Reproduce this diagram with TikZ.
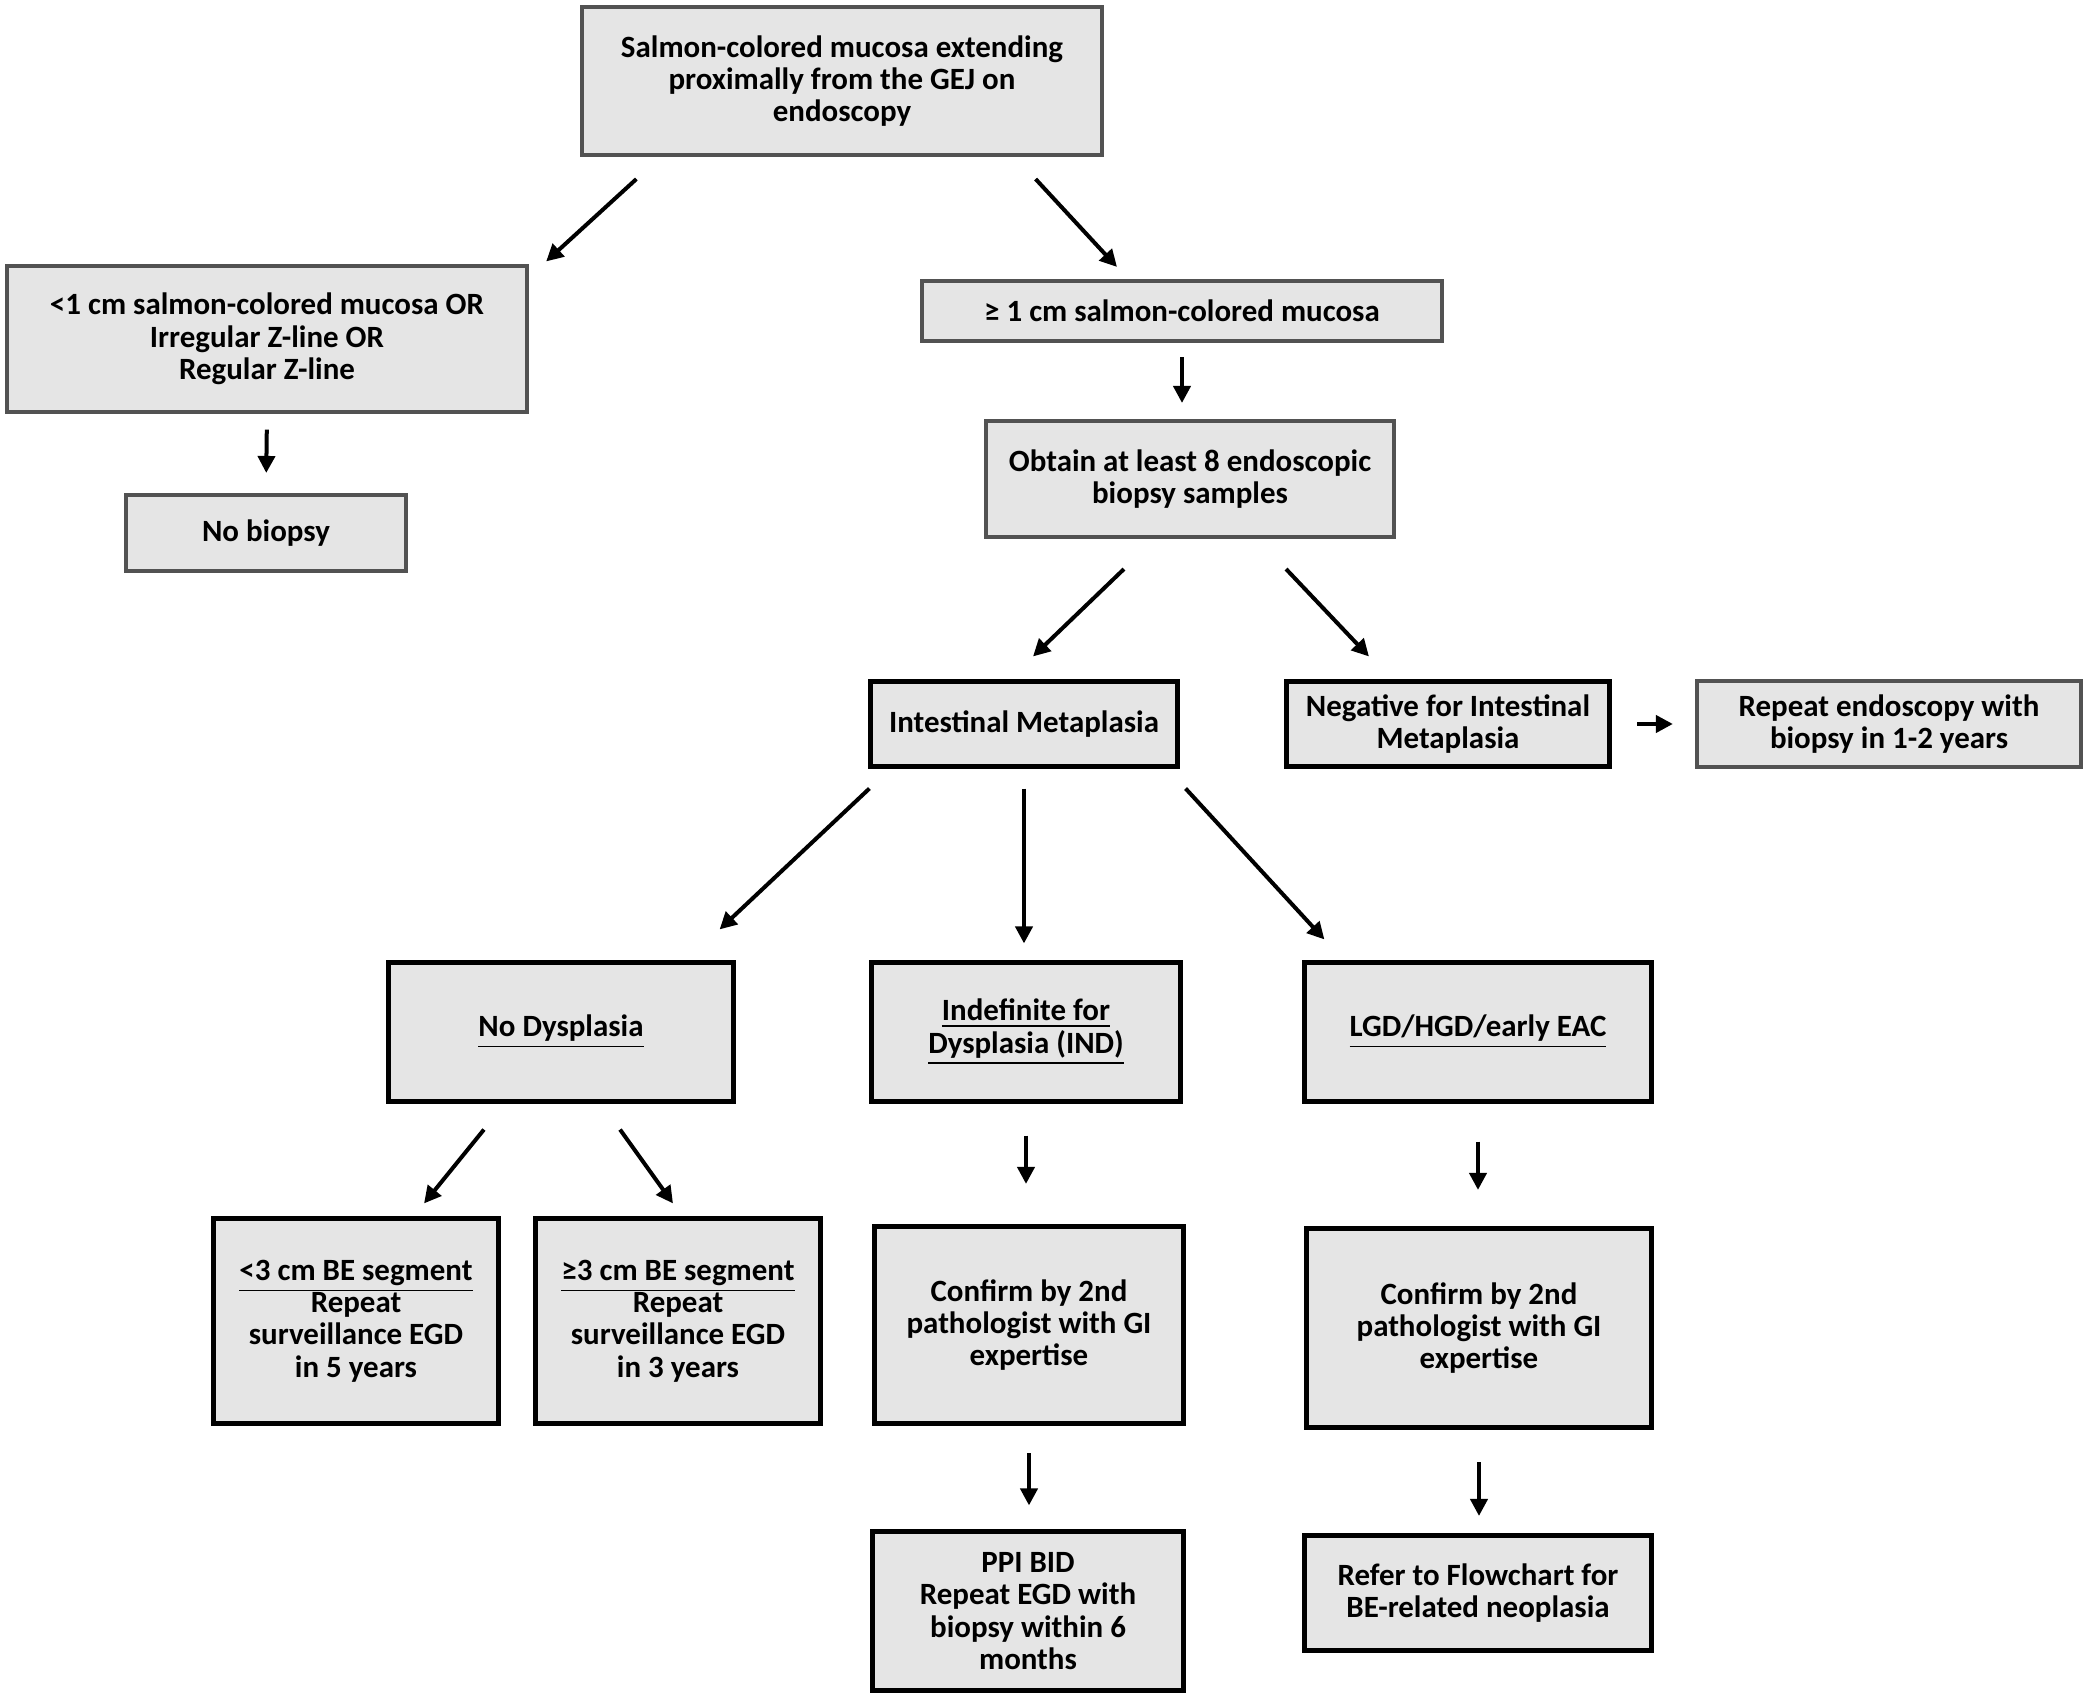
\documentclass[tikz,border=0pt]{standalone}
\usepackage{fontspec}
\setmainfont{Carlito}
\usetikzlibrary{arrows.meta}

\begin{document}
\begin{tikzpicture}[x=0.01cm,y=-0.01cm,
    box/.style={draw=black!68,line width=0.04cm,fill=black!10,align=center,inner sep=0pt,
      font=\bfseries\fontsize{8.8pt}{9.2pt}\selectfont},
    dbox/.style={box,draw=black,line width=0.05cm},
    arr/.style={line width=0.04cm,-{Triangle[length=0.17cm,width=0.17cm]}}]
        \useasboundingbox (0,0) rectangle (2090,1695);
        \node[box,minimum width=5.19cm,minimum height=1.48cm] (top) at (842,81)
            {Salmon-colored mucosa extending\\proximally from the GEJ on\\endoscopy};
        \node[box,minimum width=5.2cm,minimum height=1.45cm] (lt1) at (267,339)
            {<1 cm salmon-colored mucosa OR\\Irregular Z-line OR\\Regular Z-line};
        \node[box,minimum width=2.8cm,minimum height=0.76cm] (nobio) at (266,533) {No biopsy};
        \node[box,minimum width=5.2cm,minimum height=0.6cm] (ge1) at (1182,311)
            {≥ 1 cm salmon-colored mucosa};
        \node[box,minimum width=4.08cm,minimum height=1.16cm] (obtain) at (1190,479)
            {Obtain at least 8 endoscopic\\biopsy samples};
        \node[dbox,minimum width=3.06cm,minimum height=0.84cm] (im) at (1024,724) {Intestinal Metaplasia};
        \node[dbox,minimum width=3.23cm,minimum height=0.84cm] (neg) at (1448,724)
            {Negative for Intestinal\\Metaplasia};
        \node[box,minimum width=3.84cm,minimum height=0.85cm] (rep) at (1889,724)
            {Repeat endoscopy with\\biopsy in 1-2 years};
        \node[dbox,minimum width=3.44cm,minimum height=1.38cm] (nodys) at (561,1032)
            {\underline{No Dysplasia}};
        \node[dbox,minimum width=3.08cm,minimum height=1.38cm] (ind) at (1026,1032)
            {\underline{Indefinite for}\\\underline{Dysplasia (IND)}};
        \node[dbox,minimum width=3.46cm,minimum height=1.38cm] (lgd) at (1478,1032)
            {\underline{LGD/HGD/early EAC}};
        \node[dbox,minimum width=2.85cm,minimum height=2.04cm] (lt3) at (356,1321)
            {\underline{<3 cm BE segment}\\Repeat\\surveillance EGD\\in 5 years};
        \node[dbox,minimum width=2.84cm,minimum height=2.04cm] (ge3) at (678,1321)
            {\underline{≥3 cm BE segment}\\Repeat\\surveillance EGD\\in 3 years};
        \node[dbox,minimum width=3.09cm,minimum height=1.97cm] (conf1) at (1029,1325)
            {Confirm by 2nd\\pathologist with GI\\expertise};
        \node[dbox,minimum width=3.45cm,minimum height=1.99cm] (conf2) at (1479,1328)
            {Confirm by 2nd\\pathologist with GI\\expertise};
        \node[dbox,minimum width=3.11cm,minimum height=1.58cm] (ppi) at (1028,1611)
            {PPI BID\\Repeat EGD with\\biopsy within 6\\months};
        \node[dbox,minimum width=3.46cm,minimum height=1.15cm] (refer) at (1478,1593)
            {Refer to Flowchart for\\BE-related neoplasia};
        \draw[arr] ([xshift=0.56cm,yshift=-0.22cm]top.south west) -- ([xshift=0.17cm,yshift=0.03cm]lt1.north east);
        \draw[arr] ([xshift=-0.68cm,yshift=-0.22cm]top.south east) -- ([xshift=-0.65cm,yshift=0.12cm]ge1.north);
        \draw[arr,shorten <=0.16cm,shorten >=0.2cm] (lt1.south) -- (nobio.north);
        \draw[arr,shorten <=0.14cm,shorten >=0.16cm] (ge1.south) -- (ge1.south |- obtain.north);
        \draw[arr] ([xshift=-0.66cm,yshift=-0.3cm]obtain.south) -- ([xshift=0.09cm,yshift=0.23cm]im.north);
        \draw[arr] ([xshift=0.96cm,yshift=-0.3cm]obtain.south) -- ([xshift=-0.79cm,yshift=0.23cm]neg.north);
        \draw[arr,shorten <=0.25cm,shorten >=0.22cm] (neg.east) -- (rep.west);
        \draw[arr] ([xshift=0.01cm,yshift=-0.2cm]im.south west) -- ([xshift=-0.16cm,yshift=0.31cm]nodys.north east);
        \draw[arr,shorten <=0.2cm,shorten >=0.17cm] (im.south) -- (im.south |- ind.north);
        \draw[arr] ([xshift=0.06cm,yshift=-0.2cm]im.south east) -- ([xshift=0.22cm,yshift=0.21cm]lgd.north west);
        \draw[arr] ([xshift=-0.77cm,yshift=-0.26cm]nodys.south) -- ([xshift=0.68cm,yshift=0.13cm]lt3.north);
        \draw[arr] ([xshift=0.59cm,yshift=-0.26cm]nodys.south) -- ([xshift=-0.05cm,yshift=0.13cm]ge3.north);
        \draw[arr,shorten <=0.32cm,shorten >=0.4cm] (ind.south) -- (ind.south |- conf1.north);
        \draw[arr,shorten <=0.38cm,shorten >=0.36cm] (lgd.south) -- (lgd.south |- conf2.north);
        \draw[arr,shorten <=0.27cm,shorten >=0.24cm] (conf1.south) -- (conf1.south |- ppi.north);
        \draw[arr,shorten <=0.32cm,shorten >=0.17cm] (conf2.south) -- (conf2.south |- refer.north);
\end{tikzpicture}
\end{document}
